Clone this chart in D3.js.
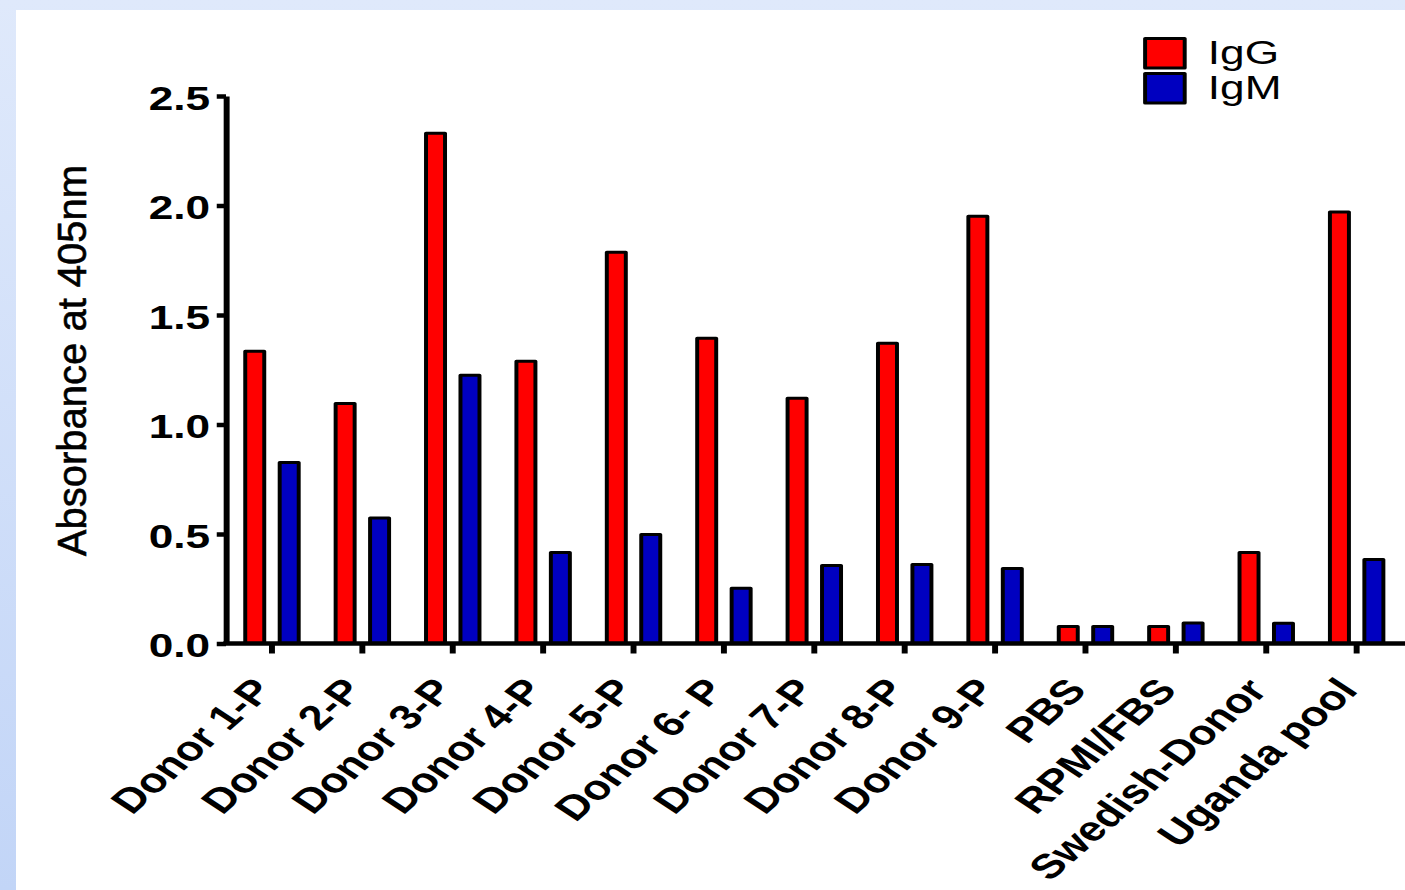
<!DOCTYPE html>
<html>
<head>
<meta charset="utf-8">
<script src="https://cdn.jsdelivr.net/npm/d3@7"></script>
<style>
  html, body { margin: 0; padding: 0; }
  body {
    width: 1405px; height: 890px; overflow: hidden;
    background: linear-gradient(#dfe9fb, #c2d5f7);
  }
  .axis path, .axis line { stroke: #000; stroke-width: 4.5; }
  .axis text { font-family: "Liberation Sans", Arial, sans-serif; font-weight: bold; fill: #000; }
</style>
</head>
<body>
<svg id="chart" width="1405" height="890"></svg>
<script>
var categories = ["Donor 1-P", "Donor 2-P", "Donor 3-P", "Donor 4-P", "Donor 5-P", "Donor 6- P",
  "Donor 7-P", "Donor 8-P", "Donor 9-P", "PBS", "RPMI/FBS", "Swedish-Donor", "Uganda pool"];
var seriesNames = ["IgG", "IgM"];
var seriesColors = ["#ff0000", "#0000c0"];
var iggValues = [1.334, 1.096, 2.33, 1.289, 1.787, 1.394, 1.12, 1.371, 1.951, 0.078, 0.078, 0.416, 1.97];
var igmValues = [0.827, 0.573, 1.225, 0.416, 0.498, 0.252, 0.356, 0.361, 0.343, 0.078, 0.094, 0.092, 0.384];
var yTicks = [0, 0.5, 1.0, 1.5, 2.0, 2.5];
var yTitle = "Absorbance at 405nm";

// the original figure is stretched sideways, so draw in plain units and widen the whole group
var stretch = 1.32;

var svg = d3.select("#chart");

svg.append("rect")
    .attr("x", 16).attr("y", 10)
    .attr("width", 1405 - 16).attr("height", 890 - 10)
    .attr("fill", "#fff");

var g = svg.append("g").attr("transform", "scale(" + stretch + ",1)");

var x0 = d3.scaleBand().domain(categories).range([171.8, 1062]).padding(0),
    x1 = d3.scaleBand().domain(seriesNames).range([0, x0.bandwidth()]).paddingInner(0.448).paddingOuter(0.536),
    y = d3.scaleLinear().domain([0, 2.5]).range([643.5, 96]);

var rows = categories.map(function(c, i) {
  return {name: c, values: [
    {key: "IgG", value: iggValues[i]},
    {key: "IgM", value: igmValues[i]}
  ]};
});

var color = d3.scaleOrdinal().domain(seriesNames).range(seriesColors);

// bars
var groups = g.selectAll(".group")
  .data(rows)
  .enter().append("g")
    .attr("class", "group")
    .attr("transform", function(d) { return "translate(" + x0(d.name) + ",0)"; });

groups.selectAll("rect")
  .data(function(d) { return d.values; })
  .enter().append("rect")
    .attr("x", function(d) { return x1(d.key); })
    .attr("width", x1.bandwidth())
    .attr("y", function(d) { return y(d.value); })
    .attr("height", function(d) { return y(0) - y(d.value); })
    .attr("fill", function(d) { return color(d.key); })
    .attr("stroke", "#000")
    .attr("stroke-width", 3)
    .attr("stroke-linejoin", "round");

// y axis
var yAxis = g.append("g")
    .attr("class", "axis axis--y")
    .attr("transform", "translate(171.2,0)")
    .call(d3.axisLeft(y).tickValues(yTicks).tickFormat(d3.format(".1f")).tickSize(7).tickSizeOuter(0).tickPadding(5));

yAxis.selectAll("text")
    .attr("dy", "0.4em")
    .style("font-size", "33.5px");

// x axis
var xAxis = g.append("g")
    .attr("class", "axis axis--x")
    .attr("transform", "translate(0," + y(0) + ")")
    .call(d3.axisBottom(x0).tickSize(10).tickSizeOuter(0));

xAxis.select(".domain").attr("d", "M" + (171.2 - 2) + ",0H" + (1405 / stretch));

xAxis.selectAll("text")
    .attr("y", 0)
    .attr("dy", 0)
    .attr("text-anchor", "end")
    .attr("transform", "translate(2,48) rotate(-49)")
    .style("font-size", "34.5px");

// legend
var legend = g.selectAll(".legend")
  .data(seriesNames)
  .enter().append("g")
    .attr("class", "legend")
    .attr("transform", function(d, i) { return "translate(867.5," + (38.5 + i * 35) + ")"; });

legend.append("rect")
    .attr("width", 30)
    .attr("height", 29.5)
    .attr("fill", function(d) { return color(d); })
    .attr("stroke", "#000")
    .attr("stroke-width", 3)
    .attr("stroke-linejoin", "round");

legend.append("text")
    .attr("x", 47.5)
    .attr("y", 25)
    .style("font-family", "'Liberation Sans', Arial, sans-serif")
    .style("font-size", "33.5px")
    .style("fill", "#000")
    .text(function(d) { return d; });

// y axis title (not stretched in the original)
svg.append("text")
    .attr("transform", "translate(86,360.5) rotate(-90)")
    .attr("text-anchor", "middle")
    .style("font-family", "'Liberation Sans', Arial, sans-serif")
    .style("font-size", "40px")
    .style("fill", "#000")
    .style("stroke", "#000")
    .style("stroke-width", 0.6)
    .text(yTitle);
</script>
</body>
</html>
